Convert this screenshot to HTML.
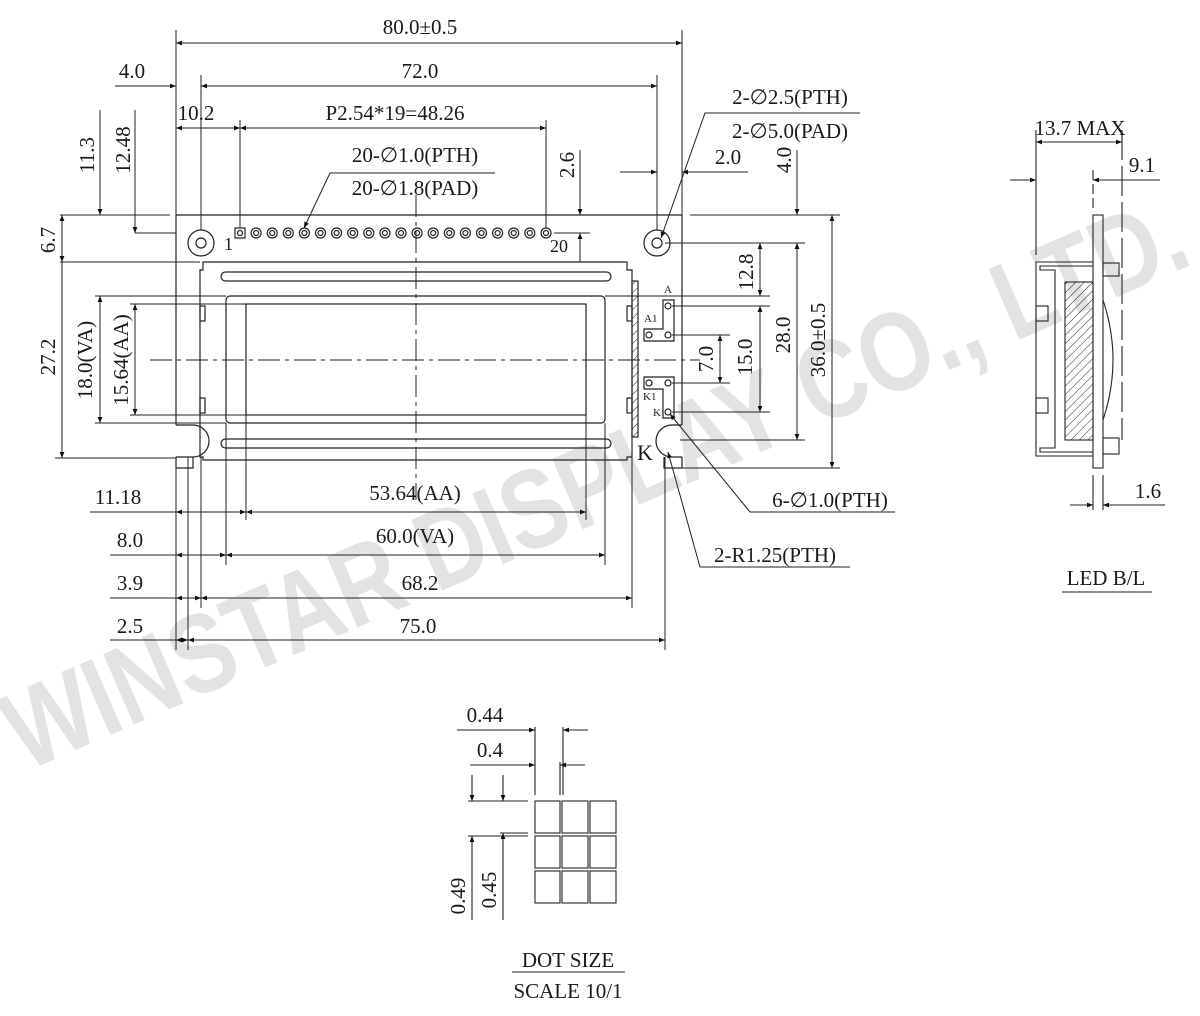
<!DOCTYPE html>
<html><head><meta charset="utf-8"><style>
html,body{margin:0;padding:0;background:#fff;}
svg{display:block;}
text{font-family:"Liberation Serif",serif;font-size:21px;fill:#1a1a1a;}
.s{font-size:11px;}
</style></head><body>
<svg width="1200" height="1016" viewBox="0 0 1200 1016" xmlns="http://www.w3.org/2000/svg">
<defs>
<marker id="a" viewBox="0 0 10 10" refX="10" refY="5" markerWidth="12" markerHeight="6" orient="auto-start-reverse" markerUnits="userSpaceOnUse"><path d="M0,1 L10,5 L0,9z" fill="#111"/></marker>
<pattern id="h" width="6" height="6" patternUnits="userSpaceOnUse" patternTransform="rotate(45)"><line x1="0" y1="0" x2="0" y2="6" stroke="#222" stroke-width="1"/></pattern>
</defs>
<!-- watermark -->
<text x="25" y="772" transform="rotate(-23.5 25 772)" textLength="1276" lengthAdjust="spacingAndGlyphs" style="font-family:'Liberation Sans',sans-serif;font-weight:bold;font-size:112px;fill:#e3e3e3">WINSTAR DISPLAY CO., LTD.</text>

<g stroke="#222" stroke-width="1.2" fill="none">
<!-- PCB -->
<path d="M176,215 H682 V425 M682,457 V468 H664 V457 M193,457 V468 H176 V457 M176,425 V215"/>
<path d="M176,425 H193 A16,16 0 0 1 193,457 H176"/>
<path d="M682,425 H672 A16,16 0 0 0 672,457 H682"/>
<line x1="193" y1="468" x2="664" y2="468" stroke-width="0"/>
<!-- bezel -->
<path d="M203,262 H627 V270 H632 V457 H627 V460 H203 V457 H200 V270 H203Z"/>
<rect x="200" y="306" width="5" height="15"/><rect x="200" y="398" width="5" height="15"/>
<rect x="627" y="306" width="5" height="15"/><rect x="627" y="398" width="5" height="15"/>
<rect x="221" y="272" width="390" height="9" rx="4.5"/>
<rect x="221" y="439" width="390" height="9" rx="4.5"/>
<rect x="226" y="296" width="379" height="127" rx="4"/>
<rect x="246" y="304" width="340" height="111"/>
<rect x="632" y="281" width="6" height="156" fill="url(#h)"/>
<!-- holes -->
<circle cx="201" cy="243" r="13"/><circle cx="201" cy="243" r="5"/>
<circle cx="657" cy="243" r="13"/><circle cx="657" cy="243" r="5"/>
<rect x="235" y="228" width="10" height="10"/><circle cx="240" cy="233" r="2.5"/>
<circle cx="256.1" cy="233" r="5"/><circle cx="256.1" cy="233" r="2.5"/>
<circle cx="272.2" cy="233" r="5"/><circle cx="272.2" cy="233" r="2.5"/>
<circle cx="288.3" cy="233" r="5"/><circle cx="288.3" cy="233" r="2.5"/>
<circle cx="304.4" cy="233" r="5"/><circle cx="304.4" cy="233" r="2.5"/>
<circle cx="320.5" cy="233" r="5"/><circle cx="320.5" cy="233" r="2.5"/>
<circle cx="336.6" cy="233" r="5"/><circle cx="336.6" cy="233" r="2.5"/>
<circle cx="352.7" cy="233" r="5"/><circle cx="352.7" cy="233" r="2.5"/>
<circle cx="368.8" cy="233" r="5"/><circle cx="368.8" cy="233" r="2.5"/>
<circle cx="384.9" cy="233" r="5"/><circle cx="384.9" cy="233" r="2.5"/>
<circle cx="401" cy="233" r="5"/><circle cx="401" cy="233" r="2.5"/>
<circle cx="417.1" cy="233" r="5"/><circle cx="417.1" cy="233" r="2.5"/>
<circle cx="433.2" cy="233" r="5"/><circle cx="433.2" cy="233" r="2.5"/>
<circle cx="449.3" cy="233" r="5"/><circle cx="449.3" cy="233" r="2.5"/>
<circle cx="465.4" cy="233" r="5"/><circle cx="465.4" cy="233" r="2.5"/>
<circle cx="481.5" cy="233" r="5"/><circle cx="481.5" cy="233" r="2.5"/>
<circle cx="497.6" cy="233" r="5"/><circle cx="497.6" cy="233" r="2.5"/>
<circle cx="513.7" cy="233" r="5"/><circle cx="513.7" cy="233" r="2.5"/>
<circle cx="529.8" cy="233" r="5"/><circle cx="529.8" cy="233" r="2.5"/>
<circle cx="546" cy="233" r="5"/><circle cx="546" cy="233" r="2.5"/>
<!-- LED pads -->
<path d="M663,300 H674 V341 H644 V329 H663Z"/>
<path d="M644,377 H674 V418 H663 V389 H644Z"/>
<circle cx="668" cy="306" r="3"/><circle cx="649" cy="335" r="3"/><circle cx="668" cy="335" r="3"/>
<circle cx="649" cy="383" r="3"/><circle cx="668" cy="383" r="3"/><circle cx="668" cy="412" r="3"/>
</g>
<text class="s" x="664" y="293">A</text><text class="s" x="644" y="322">A1</text>
<text class="s" x="643" y="400">K1</text><text class="s" x="653" y="416">K</text>
<text x="637" y="460" style="font-size:22px">K</text>
<text x="224" y="250" style="font-size:18px">1</text><text x="550" y="252" style="font-size:18px">20</text>

<g stroke="#222" stroke-width="1" stroke-dasharray="22,5,4,5" fill="none">
<line x1="416" y1="195" x2="416" y2="500"/>
<line x1="150" y1="360" x2="700" y2="360"/>
</g>

<g stroke="#222" stroke-width="1" fill="none">
<line x1="176" y1="30" x2="176" y2="215"/><line x1="682" y1="30" x2="682" y2="215"/>
<line x1="201" y1="75" x2="201" y2="230"/><line x1="657" y1="75" x2="657" y2="230"/>
<line x1="240" y1="120" x2="240" y2="228"/><line x1="546" y1="120" x2="546" y2="228"/>
<line x1="176" y1="468" x2="176" y2="650"/>
<line x1="188" y1="457" x2="188" y2="650"/><line x1="665" y1="457" x2="665" y2="650"/>
<line x1="201" y1="457" x2="201" y2="608"/><line x1="632" y1="437" x2="632" y2="608"/>
<line x1="226" y1="423" x2="226" y2="565"/><line x1="605" y1="423" x2="605" y2="565"/>
<line x1="246" y1="415" x2="246" y2="520"/><line x1="586" y1="415" x2="586" y2="520"/>
<line x1="60" y1="215" x2="170" y2="215"/><line x1="60" y1="262" x2="200" y2="262"/>
<line x1="55" y1="458" x2="176" y2="458"/>
<line x1="95" y1="296" x2="226" y2="296"/><line x1="95" y1="423" x2="226" y2="423"/>
<line x1="130" y1="304" x2="246" y2="304"/><line x1="130" y1="415" x2="246" y2="415"/>
<line x1="690" y1="215" x2="840" y2="215"/><line x1="665" y1="243" x2="805" y2="243"/>
<line x1="580" y1="262" x2="590" y2="262"/>
<line x1="605" y1="296" x2="770" y2="296"/><line x1="672" y1="306" x2="770" y2="306"/>
<line x1="672" y1="335" x2="730" y2="335"/><line x1="672" y1="383" x2="730" y2="383"/>
<line x1="672" y1="412" x2="770" y2="412"/><line x1="680" y1="440" x2="805" y2="440"/>
<line x1="682" y1="468" x2="840" y2="468"/>
<line x1="554" y1="233" x2="590" y2="233"/>
</g>

<g stroke="#222" stroke-width="1" fill="none">
<line x1="176" y1="43" x2="682" y2="43" marker-start="url(#a)" marker-end="url(#a)"/>
<line x1="201" y1="86" x2="657" y2="86" marker-start="url(#a)" marker-end="url(#a)"/>
<line x1="115" y1="86" x2="176" y2="86" marker-end="url(#a)"/>
<line x1="176" y1="128" x2="240" y2="128" marker-start="url(#a)" marker-end="url(#a)"/>
<line x1="240" y1="128" x2="546" y2="128" marker-start="url(#a)" marker-end="url(#a)"/>
<line x1="580" y1="150" x2="580" y2="215" marker-end="url(#a)"/>
<line x1="580" y1="233" x2="580" y2="262" marker-start="url(#a)"/>
<line x1="620" y1="172" x2="657" y2="172" marker-end="url(#a)"/>
<line x1="682" y1="172" x2="748" y2="172" marker-start="url(#a)"/>
<line x1="797" y1="150" x2="797" y2="215" marker-end="url(#a)"/>
<line x1="797" y1="243" x2="797" y2="440" marker-start="url(#a)" marker-end="url(#a)"/>
<line x1="832" y1="215" x2="832" y2="468" marker-start="url(#a)" marker-end="url(#a)"/>
<line x1="760" y1="243" x2="760" y2="296" marker-start="url(#a)" marker-end="url(#a)"/>
<line x1="760" y1="306" x2="760" y2="412" marker-start="url(#a)" marker-end="url(#a)"/>
<line x1="720" y1="335" x2="720" y2="383" marker-start="url(#a)" marker-end="url(#a)"/>
<line x1="100" y1="110" x2="100" y2="215" marker-end="url(#a)"/>
<line x1="135" y1="110" x2="135" y2="233" marker-end="url(#a)"/>
<line x1="135" y1="233" x2="176" y2="233"/>
<line x1="62" y1="215" x2="62" y2="262" marker-start="url(#a)" marker-end="url(#a)"/>
<line x1="62" y1="262" x2="62" y2="458" marker-end="url(#a)"/>
<line x1="100" y1="296" x2="100" y2="423" marker-start="url(#a)" marker-end="url(#a)"/>
<line x1="135" y1="304" x2="135" y2="415" marker-start="url(#a)" marker-end="url(#a)"/>
<line x1="90" y1="512" x2="176" y2="512"/>
<line x1="176" y1="512" x2="246" y2="512" marker-start="url(#a)" marker-end="url(#a)"/>
<line x1="246" y1="512" x2="586" y2="512" marker-start="url(#a)" marker-end="url(#a)"/>
<line x1="110" y1="555" x2="176" y2="555"/>
<line x1="176" y1="555" x2="226" y2="555" marker-start="url(#a)" marker-end="url(#a)"/>
<line x1="226" y1="555" x2="605" y2="555" marker-start="url(#a)" marker-end="url(#a)"/>
<line x1="110" y1="598" x2="176" y2="598"/>
<line x1="176" y1="598" x2="201" y2="598" marker-start="url(#a)" marker-end="url(#a)"/>
<line x1="201" y1="598" x2="632" y2="598" marker-start="url(#a)" marker-end="url(#a)"/>
<line x1="110" y1="640" x2="176" y2="640"/>
<line x1="176" y1="640" x2="188" y2="640" marker-start="url(#a)" marker-end="url(#a)"/>
<line x1="188" y1="640" x2="665" y2="640" marker-start="url(#a)" marker-end="url(#a)"/>
<polyline points="495,173 330,173 304,228" marker-end="url(#a)"/>
<polyline points="860,113 705,113 661,238" marker-end="url(#a)"/>
<polyline points="895,512 750,512 670,414" marker-end="url(#a)"/>
<polyline points="850,567 700,567 668,452" marker-end="url(#a)"/>
</g>

<text x="420" y="34" text-anchor="middle">80.0±0.5</text>
<text x="420" y="78" text-anchor="middle">72.0</text>
<text x="132" y="78" text-anchor="middle">4.0</text>
<text x="196" y="120" text-anchor="middle">10.2</text>
<text x="395" y="120" text-anchor="middle">P2.54*19=48.26</text>
<text x="415" y="162" text-anchor="middle">20-∅1.0(PTH)</text>
<text x="415" y="195" text-anchor="middle">20-∅1.8(PAD)</text>
<text x="790" y="104" text-anchor="middle">2-∅2.5(PTH)</text>
<text x="790" y="138" text-anchor="middle">2-∅5.0(PAD)</text>
<text x="728" y="164" text-anchor="middle">2.0</text>
<text transform="translate(574,165) rotate(-90)" text-anchor="middle">2.6</text>
<text transform="translate(791,160) rotate(-90)" text-anchor="middle">4.0</text>
<text transform="translate(94,155) rotate(-90)" text-anchor="middle">11.3</text>
<text transform="translate(130,150) rotate(-90)" text-anchor="middle">12.48</text>
<text transform="translate(55,240) rotate(-90)" text-anchor="middle">6.7</text>
<text transform="translate(55,357) rotate(-90)" text-anchor="middle">27.2</text>
<text transform="translate(92,360) rotate(-90)" text-anchor="middle">18.0(VA)</text>
<text transform="translate(128,360) rotate(-90)" text-anchor="middle">15.64(AA)</text>
<text transform="translate(753,272) rotate(-90)" text-anchor="middle">12.8</text>
<text transform="translate(752,357) rotate(-90)" text-anchor="middle">15.0</text>
<text transform="translate(713,359) rotate(-90)" text-anchor="middle">7.0</text>
<text transform="translate(790,335) rotate(-90)" text-anchor="middle">28.0</text>
<text transform="translate(825,340) rotate(-90)" text-anchor="middle">36.0±0.5</text>
<text x="118" y="504" text-anchor="middle">11.18</text>
<text x="415" y="500" text-anchor="middle">53.64(AA)</text>
<text x="130" y="547" text-anchor="middle">8.0</text>
<text x="415" y="543" text-anchor="middle">60.0(VA)</text>
<text x="130" y="590" text-anchor="middle">3.9</text>
<text x="420" y="590" text-anchor="middle">68.2</text>
<text x="130" y="633" text-anchor="middle">2.5</text>
<text x="418" y="633" text-anchor="middle">75.0</text>
<text x="830" y="507" text-anchor="middle">6-∅1.0(PTH)</text>
<text x="775" y="562" text-anchor="middle">2-R1.25(PTH)</text>

<g stroke="#222" stroke-width="1.1" fill="none">
<rect x="1093" y="215" width="10" height="253"/>
<path d="M1093,262 H1036 V456 H1093"/>
<path d="M1093,266 H1040 V270 H1055 V448 H1040 V452 H1093"/>
<rect x="1036" y="306" width="12" height="15"/><rect x="1036" y="398" width="12" height="15"/>
<rect x="1065" y="282" width="28" height="158" fill="url(#h)"/>
<rect x="1103" y="263" width="16" height="13"/><rect x="1103" y="438" width="16" height="16"/>
<path d="M1103,300 Q1123,360 1103,420"/>
<line x1="1122" y1="130" x2="1122" y2="440" stroke-dasharray="30,6"/>
<line x1="1036" y1="130" x2="1036" y2="255"/>
<line x1="1093" y1="170" x2="1093" y2="210" stroke-dasharray="10,4"/>
<line x1="1036" y1="142" x2="1122" y2="142" marker-start="url(#a)" marker-end="url(#a)"/>
<line x1="1010" y1="180" x2="1036" y2="180" marker-end="url(#a)"/>
<line x1="1093" y1="180" x2="1160" y2="180" marker-start="url(#a)"/>
<line x1="1093" y1="475" x2="1093" y2="510"/><line x1="1103" y1="475" x2="1103" y2="510"/>
<line x1="1070" y1="505" x2="1093" y2="505" marker-end="url(#a)"/>
<line x1="1103" y1="505" x2="1165" y2="505" marker-start="url(#a)"/>
<line x1="1062" y1="592" x2="1152" y2="592"/>
</g>
<text x="1080" y="135" text-anchor="middle">13.7 MAX</text>
<text x="1142" y="172" text-anchor="middle">9.1</text>
<text x="1148" y="498" text-anchor="middle">1.6</text>
<text x="1106" y="585" text-anchor="middle">LED B/L</text>

<g stroke="#222" stroke-width="1.1" fill="none">
<rect x="535" y="801" width="25" height="32"/><rect x="562" y="801" width="26" height="32"/><rect x="590" y="801" width="26" height="32"/>
<rect x="535" y="836" width="25" height="32"/><rect x="562" y="836" width="26" height="32"/><rect x="590" y="836" width="26" height="32"/>
<rect x="535" y="871" width="25" height="32"/><rect x="562" y="871" width="26" height="32"/><rect x="590" y="871" width="26" height="32"/>
<line x1="535" y1="727" x2="535" y2="795"/><line x1="563" y1="727" x2="563" y2="795"/><line x1="560" y1="762" x2="560" y2="795"/>
<line x1="457" y1="730" x2="535" y2="730" marker-end="url(#a)"/>
<line x1="563" y1="730" x2="588" y2="730" marker-start="url(#a)"/>
<line x1="470" y1="765" x2="535" y2="765" marker-end="url(#a)"/>
<line x1="560" y1="765" x2="585" y2="765" marker-start="url(#a)"/>
<line x1="468" y1="801" x2="528" y2="801"/><line x1="468" y1="836" x2="528" y2="836"/><line x1="500" y1="833" x2="528" y2="833"/>
<line x1="472" y1="775" x2="472" y2="801" marker-end="url(#a)"/>
<line x1="472" y1="836" x2="472" y2="920" marker-start="url(#a)"/>
<line x1="503" y1="775" x2="503" y2="801" marker-end="url(#a)"/>
<line x1="503" y1="833" x2="503" y2="920" marker-start="url(#a)"/>
<line x1="512" y1="972" x2="625" y2="972"/>
</g>
<text x="485" y="722" text-anchor="middle">0.44</text>
<text x="490" y="757" text-anchor="middle">0.4</text>
<text transform="translate(465,896) rotate(-90)" text-anchor="middle">0.49</text>
<text transform="translate(496,890) rotate(-90)" text-anchor="middle">0.45</text>
<text x="568" y="967" text-anchor="middle">DOT SIZE</text>
<text x="568" y="998" text-anchor="middle">SCALE 10/1</text>
</svg>
</body></html>
